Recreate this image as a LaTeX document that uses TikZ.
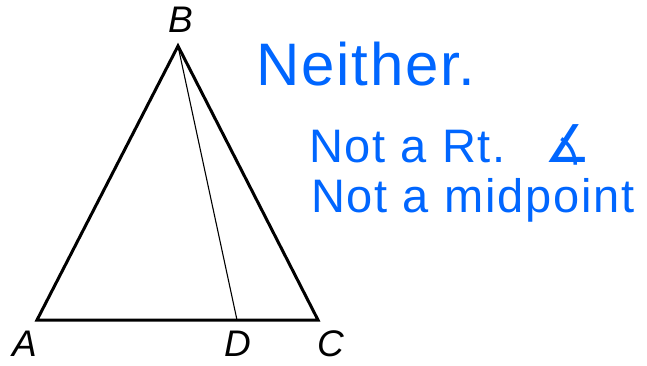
\documentclass[tikz,border=0pt]{standalone}
\usepackage{fontspec}
\setmainfont{Liberation Sans}
\newfontfamily\symfont{DejaVu Sans}
\usepackage{tikz}
\usetikzlibrary{positioning}

\definecolor{inkblue}{RGB}{0,102,255}
\tikzset{
  vertexlabel/.style={font=\fontsize{37}{37}\selectfont\itshape, inner sep=0pt},
  handnote/.style={text=inkblue, anchor=base west, inner sep=0pt},
  side/.style={line width=3pt, line join=miter},
}

\begin{document}
\begin{tikzpicture}[x=1pt,y=-1pt]
  \useasboundingbox (0,0) rectangle (647,365);
  \coordinate (A) at (37,320);
  \coordinate (B) at (178,46);
  \coordinate (C) at (318,320);
  \coordinate (D) at (237,320);
  \draw[side] (A) -- (B) -- (C) -- cycle;
  \draw[line width=1.1pt] (B) -- (D);
  \node[vertexlabel] (lB) at (181,20) {B};
  \node[vertexlabel] (lA) at (25,344) {A};
  \node[vertexlabel] (lD) at (238,344) {D};
  \node[vertexlabel] (lC) at (331,344) {C};
  \node[handnote, font=\fontsize{60}{60}\selectfont\addfontfeature{LetterSpace=3}] (neither) at (256,85) {Neither.};
  \node[handnote, font=\fontsize{47}{47}\selectfont\addfontfeature{LetterSpace=4}] (rtangle) at (309,162) {Not a Rt.\enspace\ {\symfont\fontsize{52}{52}\selectfont ∡}};
  \node[handnote, font=\fontsize{47}{47}\selectfont\addfontfeature{LetterSpace=4}] (midpt) at (311,212) {Not a midpoint};
\end{tikzpicture}
\end{document}
